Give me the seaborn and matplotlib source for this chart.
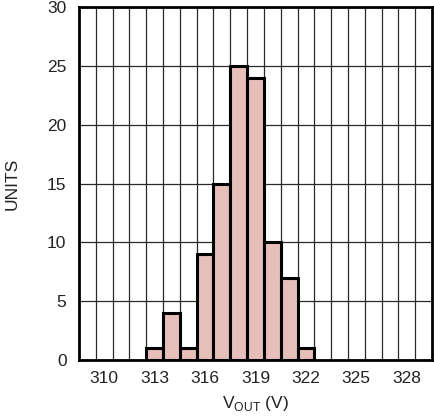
import matplotlib
matplotlib.use("Agg")
import matplotlib.pyplot as plt
import seaborn as sns
import numpy as np
from matplotlib.ticker import FixedLocator

vout = [313, 314, 315, 316, 317, 318, 319, 320, 321, 322]
units = [1, 4, 1, 9, 15, 25, 24, 10, 7, 1]
xticks = [310, 313, 316, 319, 322, 325, 328]
yticks = [0, 5, 10, 15, 20, 25, 30]

sns.set_style("white")
plt.rcParams['font.family'] = ['Liberation Sans Narrow', 'Liberation Sans', 'DejaVu Sans']
plt.rcParams['mathtext.fontset'] = 'custom'
plt.rcParams['mathtext.rm'] = 'Liberation Sans'

fig = plt.figure(figsize=(4.35, 4.17), dpi=100)
ax = fig.add_axes([79/435, 1-360/417, (432-79)/435, (360-7)/417])

sns.histplot(x=vout, weights=units, discrete=True, ax=ax,
             color='#E6BEBA', alpha=1, edgecolor='black', linewidth=2.2, zorder=3)

ax.set_xlim(308.5, 329.5)
ax.set_ylim(0, 30)
ax.set_xticks(xticks)
ax.set_yticks(yticks)
ax.xaxis.set_minor_locator(FixedLocator(np.arange(309.5, 329.0, 1.0)))
ax.grid(False)
ax.grid(which='minor', axis='x', color='#2a2a2a', linewidth=0.9, zorder=1)
ax.grid(which='major', axis='y', color='#2a2a2a', linewidth=0.9, zorder=1)
ax.set_axisbelow(True)
ax.tick_params(which='both', length=0, labelsize=12.5, colors='#222222', pad=8)
ax.tick_params(axis='y', pad=9)
for s in ax.spines.values():
    s.set_linewidth(2)
    s.set_color('black')
    s.set_zorder(5)

ax.set_ylabel('UNITS', fontsize=12.5, color='#222222', labelpad=20)
ax.set_xlabel(r'V$_{\mathregular{OUT}}$ (V)', fontsize=12.5, color='#222222', labelpad=6)

fig.savefig('out.png', dpi=100)
